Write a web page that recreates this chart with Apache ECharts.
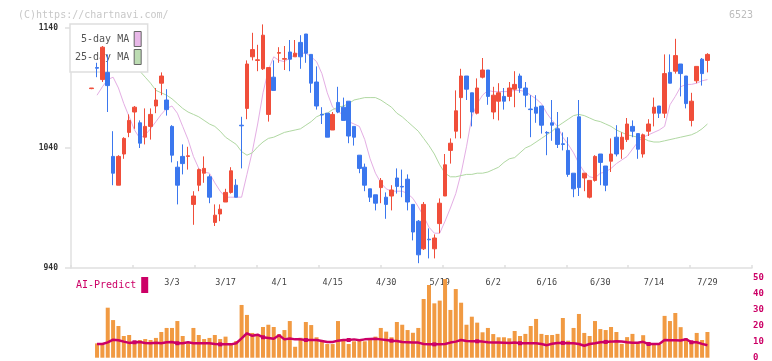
<!DOCTYPE html>
<html>
<head>
<meta charset="utf-8">
<script src="https://cdn.jsdelivr.net/npm/echarts@6/dist/echarts.min.js"></script>
<style>
html, body { margin: 0; padding: 0; background: #fff; }
#chart_6523 { width: 772px; height: 361px; }
</style>
</head>
<body>
<div id="chart_6523"></div>
<script>
// 日付 (営業日)
var dates = [
    '2/6','2/9','2/10','2/12','2/13','2/16','2/17','2/18','2/19','2/20',
    '2/24','2/25','2/26','2/27','3/2','3/3','3/4','3/5','3/6','3/9',
    '3/10','3/11','3/12','3/13','3/16','3/17','3/18','3/19','3/23','3/24',
    '3/25','3/26','3/27','3/30','3/31','4/1','4/2','4/3','4/6','4/7',
    '4/8','4/9','4/10','4/13','4/14','4/15','4/16','4/17','4/20','4/21',
    '4/22','4/23','4/24','4/27','4/28','4/30','5/1','5/7','5/8','5/11',
    '5/12','5/13','5/14','5/15','5/18','5/19','5/20','5/21','5/22','5/25',
    '5/26','5/27','5/28','5/29','6/1','6/2','6/3','6/4','6/5','6/8',
    '6/9','6/10','6/11','6/12','6/15','6/16','6/17','6/18','6/19','6/22',
    '6/23','6/24','6/25','6/26','6/29','6/30','7/1','7/2','7/3','7/6',
    '7/7','7/8','7/9','7/10','7/13','7/14','7/15','7/16','7/17','7/21',
    '7/22','7/23','7/24','7/27','7/28','7/29'
];

var openP = [
    1089.5,1107,1097,1103,1033,1009,1035,1053,1070,1061,
    1049,1058,1075,1094,1080,1058,1024,1033,1033,993,
    1009,1019,1016,978,985,995,1003,1009,1059,1073,
    1116,1113,1106,1068,1099,1119,1114,1120,1116,1128,
    1135,1118,1095,1068,1069,1055,1078,1074,1079,1058,
    1034,1024,1006,1001,1007,999,1000,1015,1008,1014,
    993,979,956,964,956,977,1000,1038,1054,1082,
    1100,1086,1069,1099,1105,1070,1079,1083,1083,1089,
    1100,1090,1072.5,1074,1075,1053,1061,1056,1043.5,1038,
    1019,1066,1015,999,1013,1035,1025,1029,1049,1039,
    1047,1058,1052,1035,1054,1069,1075,1069,1103,1104,
    1110,1100,1063,1096,1114,1113
];
var closeP = [
    1090,1106.5,1124,1092,1019,1033,1048,1063,1074,1044,
    1058,1068,1080,1100,1072,1034,1009,1027,1033.5,1000,
    1022,1023,999,984,989,1003,1021,999,1058.5,1110,
    1122,1113.5,1134,1107,1088,1119.5,1114.5,1114,1119,1116,
    1119,1094,1075,1067.5,1049,1068,1070,1063,1050,1049,
    1023,1009,999,994,1013,993,1005,1008,1007.5,995,
    970,951,993,963.5,965,994,1026,1044,1071,1100,
    1089,1070,1090,1105,1083,1084,1086,1079,1090,1093,
    1090,1084,1072,1069,1059,1052.5,1059,1043,1043,1018,
    1006,1007,1019,1013,1033,1028,1009,1035,1035,1049,
    1060,1054,1039,1051,1060,1074,1069,1102,1094,1117,
    1102,1077,1079,1108,1102,1118
];
var lowP = [
    1089,1099,1095,1070,1009,1009,1031,1049,1056,1040,
    1043,1047,1069,1084,1067,1028,993,1018,1022,976,
    1004,1011,994,975,979,995,1002,999,1023,1064,
    1113,1104,1105,1062,1088,1111,1105,1104,1116,1106,
    1111,1086,1072,1060,1049,1055,1069,1063,1044,1042,
    1019,1004,995,988,994,981,988,1002,999,988,
    963,944,955,948,948,969,1000,1027,1048,1048,
    1080,1058,1068,1098,1076,1064,1063,1072,1079,1074,
    1086,1074,1049,1061,1052,1034,1046,1040,1038,1016,
    999,1000,1004,998,1012,1009,1004,1020,1033,1031,
    1045,1049,1031,1032,1050,1058,1065,1065,1094,1102,
    1083,1073,1058,1094,1092,1103
];
var highP = [
    1090,1111,1125,1118,1054,1034,1049,1068,1075,1063,
    1073,1073,1090,1103,1089,1059,1029,1043,1041,1004,
    1023,1033,1018,993,993,1006,1024,1014,1066,1113,
    1136,1126,1143,1107,1113,1124,1125,1130,1130,1134,
    1135,1118,1108,1074,1069,1070,1091,1082,1079,1058,
    1034,1027,1006,1001,1015,1003,1009,1023,1022,1018,
    993,980,995,973,968,998,1035,1048,1088,1106,
    1100,1086,1098,1115,1105,1091,1094,1090,1095,1104,
    1102,1095,1084,1084,1075,1054,1080,1070,1053,1049,
    1019,1080,1019,1013,1034,1035,1025,1048,1059,1053,
    1065,1063,1052,1052,1064,1082,1075,1118,1118,1131,
    1110,1100,1086,1108,1115,1119
];

var ma5 = [
    null,1084,1091,1097,1099,1090,1077,1066,1055,1048,
    1051,1056,1062,1068,1073,1075,1069,1058,1047,1033,
    1023,1020,1019,1011,1004,999,999,999,999,1018,
    1037,1060,1086,1105,1116,1113,1112,1115,1118,1119,
    1119,1116,1112,1102,1086,1074,1070,1068,1062,1060,
    1058,1047,1031,1019,1011,1006,1004,1004,1004,1002,
    998,991,983,974,969,969,979,990,1002,1019,
    1041,1066,1077,1084,1088,1087,1087,1087,1087,1088,
    1088,1087,1084,1081,1077,1069,1063,1058,1049,1043,
    1036,1027,1020,1016,1015,1019,1020,1023,1027,1030,
    1033,1039,1045,1049,1051,1053,1055,1058,1076,1083,
    1091,1093,1093,1094,1096,1097
];
var ma25 = [
    null,null,null,null,null,null,1122,1117,1110,1104,
    1099,1094,1088,1086,1084,1081,1077,1073,1070,1068,
    1066,1063,1060,1058,1054,1049,1046,1043,1037,1034,
    1036,1041,1045,1048,1049,1051,1053,1054,1055,1056,
    1059,1062,1066,1068,1069,1072,1074,1075,1077,1080,
    1081,1082,1082,1082,1080,1077,1074,1069,1066,1062,
    1058,1054,1048,1042,1035,1026,1019,1016,1016,1017,
    1018,1018,1019,1019,1020,1022,1024,1028,1031,1032,
    1036,1040,1042,1045,1048,1051,1054,1058,1061,1064,
    1067,1068,1067,1065,1063,1062,1060,1058,1055,1053,
    1051,1050,1049,1048,1046,1045,1045,1046,1047,1048,
    1049,1050,1051,1053,1056,1060
];

// 出来高 (右軸の目盛で読んだ値)
var volume = [
    null,8.9,8.3,31.1,23.4,19.7,13.5,14.1,10,11,
    11.6,11,12.3,16,18.5,18.5,22.8,13.5,8.9,18.5,
    14.1,11.6,12.3,14.1,11.6,13.1,8.9,10.4,32.8,26.6,
    15.4,14.5,19.1,20.5,19.1,14.7,17.2,22.8,6.8,12.4,
    22.2,20.3,12.7,11,8.5,8.5,22.8,10.6,8.5,10.2,
    11,10.2,11,13.1,18.5,16.2,12.7,22.2,20.5,17.2,
    15.5,18.5,36.5,45.2,33.8,35.5,48.9,29.7,42.7,34.2,
    20.5,25.5,21.8,15.8,18.5,14.7,12.7,12.7,12.1,16.6,
    13.5,14.8,19.7,24.1,14.8,14.1,14.1,14.8,24.7,10.6,
    18.5,27.2,15.4,13.5,22.8,17.8,17.2,19.1,16,8.6,
    12.8,14.8,9,14,9.8,8.2,8.2,26,22.8,27.8,
    19,12.2,9.5,15.4,11,16
];
var aiPredict = [
    null,8.5,8.5,9.5,11.2,10.9,10,9.2,9.6,9.8,
    9.2,9,9.3,9,9.6,9.8,9,9,9.6,9,
    9,9,9,8.5,8.3,8.3,8.3,9,12,15.2,
    13.6,14.3,12.7,12.3,11.8,14,11.4,12,11.4,11.4,
    11,11,11,10.4,9.8,9.8,10.6,11,11,11.4,
    10.8,11.4,11.6,11.8,11.4,11,10.6,10.4,9.8,9.6,
    9.4,9.4,8.5,8.3,8.3,8.3,8.5,9.4,10,11,
    10.4,10.2,10.2,10,9.6,9.4,9.4,9.3,9.2,9.4,
    9,9,9,9,8.5,7.8,8.7,9.2,9.2,9,
    9,8.5,7.4,8.5,9,9.6,9.8,10,10.3,10.1,
    9.6,9.3,9.3,9.9,8.5,8.5,8.5,11,10.8,10.9,
    10.7,11.5,9.6,9.6,8.6,7.7
];

var priceTicks = [940, 1140, 100];
var volTicks = [0, 50, 10];
var firstLabel = 15, labelStep = 10;

$_init();

function $_init() {
    var myChart = echarts.init(document.getElementById('chart_6523'));
    var mono = 'DejaVu Sans Mono';

    // ローソク足 [open, close, low, high]
    var candles = dates.map(function (d, i) {
        return [openP[i], closeP[i], lowP[i], highP[i]];
    });

    var option = {
        animation: false,
        backgroundColor: '#fff',
        textStyle: { fontFamily: mono },
        title: [
            { text: '(C)https://chartnavi.com/', left: 13, top: 5,
              textStyle: { color: '#c8c8c8', fontSize: 10, fontWeight: 'normal', fontFamily: mono } },
            { text: '6523', right: 14, top: 5,
              textStyle: { color: '#bdbdbd', fontSize: 10, fontWeight: 'normal', fontFamily: mono } }
        ],
        legend: [
            {
                orient: 'vertical', left: 70, top: 24, align: 'right',
                padding: [7, 6, 7, 5], itemGap: 2, itemWidth: 7, itemHeight: 15,
                backgroundColor: '#fff', borderColor: '#dedede', borderWidth: 1.5,
                selectedMode: false, z: 3,
                textStyle: { color: '#555', fontSize: 10, fontFamily: mono },
                data: [
                    { name: '5-day MA', icon: 'rect',
                      itemStyle: { color: '#e8b8e8', borderColor: '#666', borderWidth: 1 } },
                    { name: '25-day MA', icon: 'rect',
                      itemStyle: { color: '#bcdcb2', borderColor: '#666', borderWidth: 1 } }
                ]
            },
            {
                orient: 'horizontal', left: 76, top: 277, align: 'right',
                padding: 0, itemWidth: 7, itemHeight: 16,
                selectedMode: false,
                textStyle: { color: '#cc0066', fontSize: 10, fontFamily: mono },
                data: [
                    { name: 'AI-Predict', icon: 'rect', itemStyle: { color: '#cc0066', borderWidth: 0 } }
                ]
            }
        ],
        grid: [
            // 枠 (軸線・目盛)
            { left: 71, right: 20, top: 28, bottom: 93, outerBoundsMode: 'none' },
            // ローソク足
            { left: 89, right: 61.9, top: 28, bottom: 93, outerBoundsMode: 'none' },
            // 出来高
            { left: 89, right: 61.9, top: 277.3, bottom: 3.3, outerBoundsMode: 'none' }
        ],
        xAxis: [
            {
                gridIndex: 0, type: 'value', min: 0, max: 11, interval: 1,
                axisLine: { lineStyle: { color: '#e0e0e0', width: 1.5 } },
                axisTick: { show: true, inside: true, length: 3, lineStyle: { color: '#e0e0e0', width: 1.5 } },
                axisLabel: { show: false },
                splitLine: { show: false }
            },
            {
                gridIndex: 1, type: 'category', data: dates, boundaryGap: true,
                axisLine: { show: false }, axisTick: { show: false },
                axisLabel: {
                    color: '#444', fontSize: 8.5, fontFamily: mono, margin: 10,
                    interval: function (i) { return i >= firstLabel && (i - firstLabel) % labelStep === 0; }
                },
                splitLine: { show: false }
            },
            {
                gridIndex: 2, type: 'category', data: dates, boundaryGap: true, show: false
            }
        ],
        yAxis: [
            {
                gridIndex: 0, type: 'value', min: priceTicks[0], max: priceTicks[1], interval: priceTicks[2],
                axisLine: { show: true, lineStyle: { color: '#e0e0e0', width: 1.5 } },
                axisTick: { show: true, length: 6, lineStyle: { color: '#e0e0e0', width: 1.5 } },
                axisLabel: {
                    color: '#333', fontSize: 8, fontWeight: 'bold', fontFamily: mono, margin: 13,
                    formatter: function (v) { return String(v); }
                },
                splitLine: { show: false }
            },
            {
                gridIndex: 1, type: 'value', min: priceTicks[0], max: priceTicks[1], show: false,
                splitLine: { show: false }
            },
            {
                gridIndex: 2, type: 'value', position: 'right', offset: 42,
                min: volTicks[0], max: volTicks[1], interval: volTicks[2],
                axisLine: { show: false }, axisTick: { show: false },
                axisLabel: { color: '#cc0066', fontSize: 9, fontWeight: 'bold', fontFamily: mono, margin: 1 },
                splitLine: { show: false }
            }
        ],
        series: [
            {
                name: 'price', type: 'candlestick', xAxisIndex: 1, yAxisIndex: 1,
                data: candles, barWidth: 4, clip: false, z: 5,
                itemStyle: {
                    color: '#f04e3a', color0: '#3b77ee',
                    borderColor: '#f04e3a', borderColor0: '#3b77ee', borderWidth: 1
                }
            },
            {
                name: '5-day MA', type: 'line', xAxisIndex: 1, yAxisIndex: 1,
                data: ma5, showSymbol: false, symbol: 'none', z: 2,
                itemStyle: { color: '#e8b8e8' },
                lineStyle: { color: '#e4aee4', width: 1 }
            },
            {
                name: '25-day MA', type: 'line', xAxisIndex: 1, yAxisIndex: 1,
                data: ma25, showSymbol: false, symbol: 'none', z: 2,
                itemStyle: { color: '#bcdcb2' },
                lineStyle: { color: '#b0d8a2', width: 1 }
            },
            {
                name: 'volume', type: 'bar', xAxisIndex: 2, yAxisIndex: 2,
                data: volume, barWidth: 4,
                itemStyle: { color: '#f19a42' }
            },
            {
                name: 'AI-Predict', type: 'line', xAxisIndex: 2, yAxisIndex: 2,
                data: aiPredict, symbol: 'rect', symbolSize: 4, showSymbol: true, z: 4,
                itemStyle: { color: '#cc0066' },
                lineStyle: { color: '#cc0066', width: 2.5 }
            }
        ]
    };

    myChart.setOption(option);
}
</script>
</body>
</html>
